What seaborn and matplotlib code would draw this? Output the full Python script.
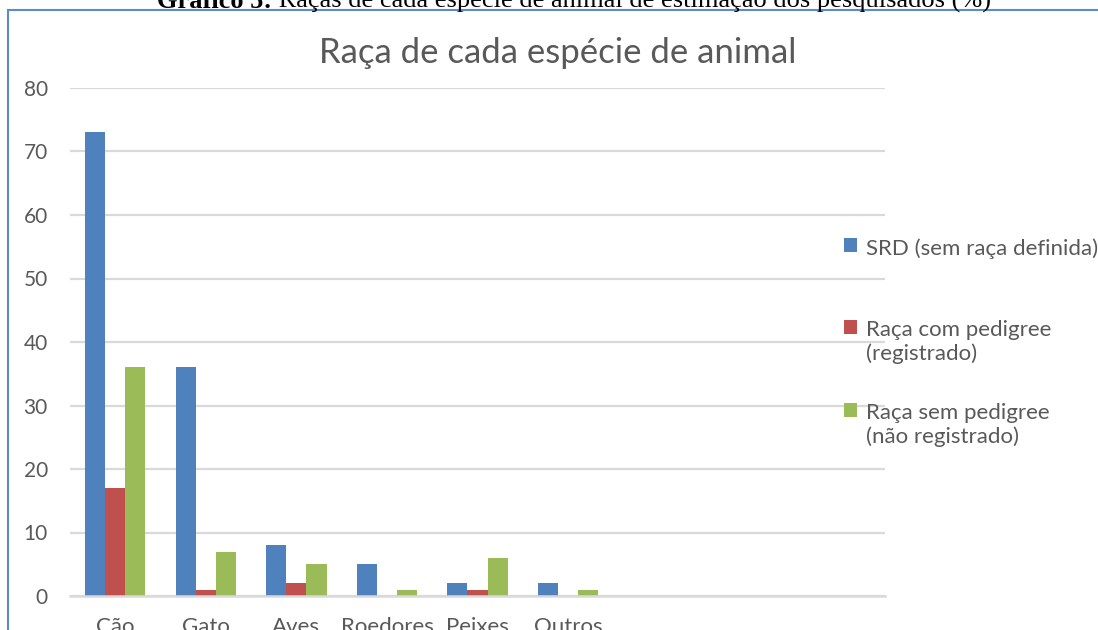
import matplotlib

matplotlib.use("Agg")
import matplotlib.pyplot as plt
import pandas as pd
import seaborn as sns
from matplotlib.patches import Rectangle

# chart data
categories = ["Cão", "Gato", "Aves", "Roedores", "Peixes", "Outros"]
blank_slots = ["", " ", "  "]
series_names = [
    "SRD (sem raça definida)",
    "Raça com pedigree\n(registrado)",
    "Raça sem pedigree\n(não registrado)",
]
srd = [73, 36, 8, 5, 2, 2]
com_pedigree = [17, 1, 2, 0, 1, 0]
sem_pedigree = [36, 7, 5, 1, 6, 1]
y_ticks = [0, 10, 20, 30, 40, 50, 60, 70, 80]

title = "Raça de cada espécie de animal"
caption_bold = "Gráfico 5:"
caption_rest = " Raças de cada espécie de animal de estimação dos pesquisados (%)"

colors = ["#4F81BD", "#C0504D", "#9BBB59"]
text_grey = "#595959"
grid_grey = "#D9D9D9"

df = pd.DataFrame(
    {
        "categoria": categories * 3,
        "serie": [s for s in series_names for _ in categories],
        "valor": srd + com_pedigree + sem_pedigree,
    }
)

sns.set_theme(style="white")
plt.rcParams["font.family"] = ["Lato", "DejaVu Sans"]

fig = plt.figure(figsize=(10.98, 6.3), dpi=100)
ax = fig.add_axes([70 / 1098, 34 / 630, 815 / 1098, 508 / 630])

sns.barplot(
    data=df,
    x="categoria",
    y="valor",
    hue="serie",
    order=categories + blank_slots,
    hue_order=series_names,
    palette=colors,
    width=2 / 3,
    gap=0,
    linewidth=0,
    saturation=1,
    errorbar=None,
    ax=ax,
)

ax.set_ylim(0, 80)
ax.set_xlim(-0.5, len(categories) + len(blank_slots) - 0.5)
ax.set_yticks(y_ticks)
ax.yaxis.grid(True, color=grid_grey, linewidth=1.6)
ax.set_axisbelow(True)
for side in ["top", "right", "left"]:
    ax.spines[side].set_visible(False)
ax.spines["bottom"].set_color(grid_grey)
ax.spines["bottom"].set_linewidth(1.8)
ax.set_xlabel("")
ax.set_ylabel("")
ax.tick_params(axis="y", length=0, pad=16, labelsize=15, labelcolor=text_grey)
ax.tick_params(axis="x", length=0, pad=15, labelsize=16, labelcolor=text_grey)

fig.text(0.508, 1 - 53 / 630, title, ha="center", va="center", fontsize=25, color=text_grey)

# every legend entry gets two lines of height, like Excel's even spacing
handles, _ = ax.get_legend_handles_labels()
legend_labels = [s if "\n" in s else s + "\n" for s in series_names]
leg = ax.legend(
    handles,
    legend_labels,
    loc="upper left",
    bbox_to_anchor=(844 / 1098, 1 - 238 / 630),
    bbox_transform=fig.transFigure,
    frameon=False,
    fontsize=16,
    labelcolor=text_grey,
    handlelength=0.6,
    handleheight=0.6,
    handletextpad=0.38,
    labelspacing=1.73,
    borderaxespad=0,
    borderpad=0,
)
for row in leg._legend_handle_box.get_children()[0].get_children():
    row.align = "top"
for txt in leg.get_texts():
    txt.set_linespacing(1.2)

# document frame and clipped caption above it
fig.patches.append(
    Rectangle((8 / 1098, -0.05), 1.2, 1 - 10 / 630 + 0.05, transform=fig.transFigure,
              fill=False, edgecolor="#5B8BCB", linewidth=1.5)
)
cap_y = 1 - 8 / 630
cap_kw = dict(va="baseline", fontsize=19, family="Liberation Serif", color="black")
bold = fig.text(0, cap_y, caption_bold, fontweight="bold", **cap_kw)
rest = fig.text(0, cap_y, caption_rest, **cap_kw)
renderer = fig.canvas.get_renderer()
w_bold = bold.get_window_extent(renderer).width / 1098
w_rest = rest.get_window_extent(renderer).width / 1098
start = 0.523 - (w_bold + w_rest) / 2
bold.set_x(start)
rest.set_x(start + w_bold)

fig.savefig("out.png", dpi=100)
